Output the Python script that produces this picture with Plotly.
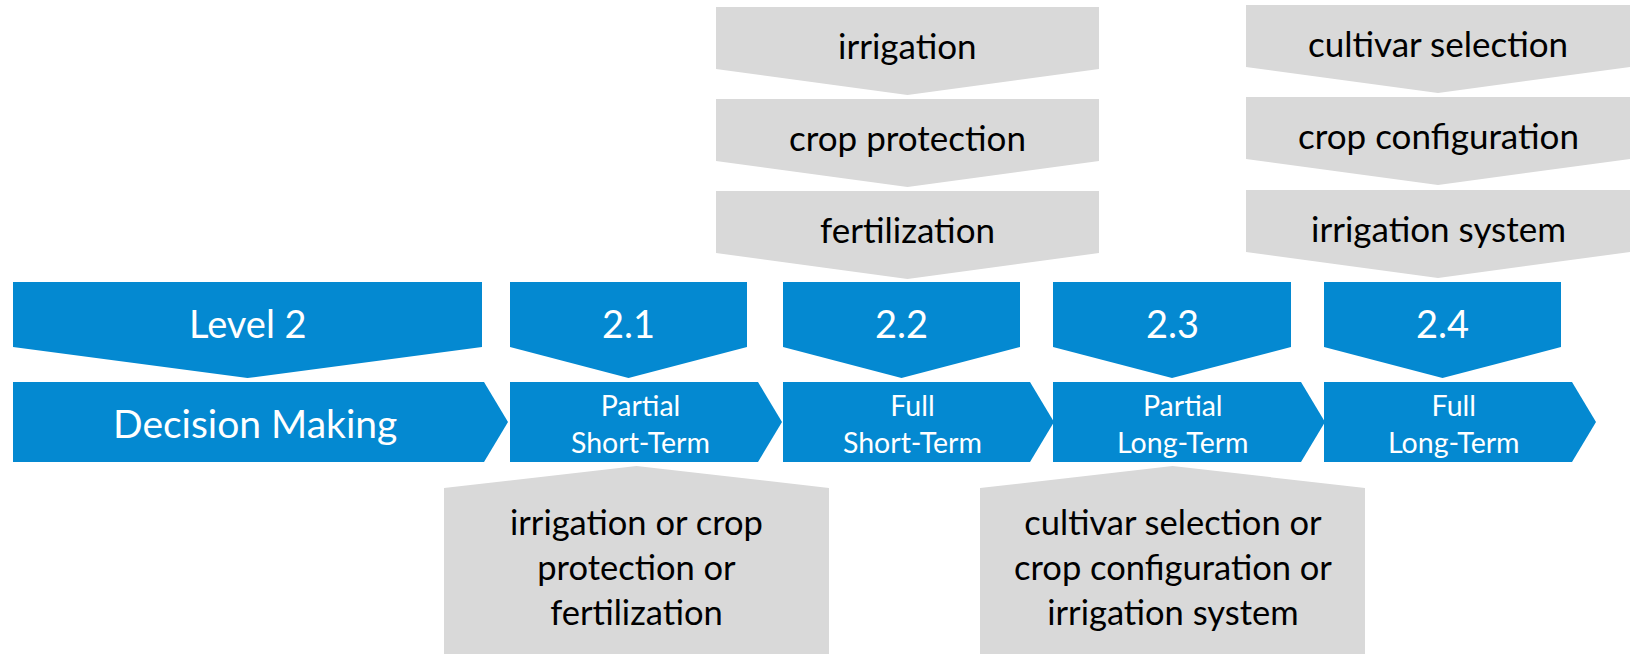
import plotly.graph_objects as go

# ---- content ----
level_label = "Level 2"
base_label = "Decision Making"
stage_codes = ["2.1", "2.2", "2.3", "2.4"]
stage_names = ["Partial<br>Short-Term", "Full<br>Short-Term", "Partial<br>Long-Term", "Full<br>Long-Term"]
short_term_actions = ["irrigation", "crop protection", "fertilization"]
long_term_actions = ["cultivar selection", "crop configuration", "irrigation system"]
partial_short_text = "irrigation or crop<br>protection or<br>fertilization"
partial_long_text = "cultivar selection or<br>crop configuration or<br>irrigation system"

# ---- layout geometry (pixels) ----
W, H = 1632, 654
BLUE = "#0489D1"
GRAY = "#D9D9D9"
FONT = "Lato"

chev_left = [13, 510, 783, 1053, 1324]
chev_flat = [484, 758, 1030, 1301, 1572]
TIP = 24
CH_TOP, CH_BOT = 382, 462
box_right = [482, 747, 1020, 1291, 1561]
BOX_TOP, BOX_SIDE, BOX_TIP = 282, 347, 378

fig = go.Figure()
ann = []


def poly(xs, ys, color):
    fig.add_trace(go.Scatter(x=xs + [xs[0]], y=ys + [ys[0]], mode="lines", fill="toself",
                             fillcolor=color, line=dict(width=0, color=color),
                             hoverinfo="skip", showlegend=False))


def down_box(x0, x1, top, side, tip, color):
    xm = (x0 + x1) / 2
    poly([x0, x1, x1, xm, x0], [top, top, side, tip, side], color)


def label(x, y, text, size, color):
    ann.append(dict(x=x, y=y, xref="x", yref="y", text=text, showarrow=False,
                    font=dict(family=FONT, size=size, color=color),
                    xanchor="center", yanchor="middle", align="center"))


level_texts = [level_label] + stage_codes
chev_texts = [base_label] + stage_names
for i in range(5):
    # level pentagon (pointing down)
    down_box(chev_left[i], box_right[i], BOX_TOP, BOX_SIDE, BOX_TIP, BLUE)
    label((chev_left[i] + box_right[i]) / 2, 323, level_texts[i], 38, "white")
    # chevron (home plate pointing right)
    poly([chev_left[i], chev_flat[i], chev_flat[i] + TIP, chev_flat[i], chev_left[i]],
         [CH_TOP, CH_TOP, (CH_TOP + CH_BOT) / 2, CH_BOT, CH_BOT], BLUE)
    cx = (chev_left[i] + chev_flat[i] + TIP / 2) / 2
    if i == 0:
        label(cx, 423, chev_texts[i], 39, "white")
    else:
        label(cx, 423, chev_texts[i], 28.5, "white")

# top gray stacks for full stages
stacks = [(716, 1099, [7, 99, 191], short_term_actions),
          (1246, 1630, [5, 97, 190], long_term_actions)]
for x0, x1, tops, acts in stacks:
    for t, a in zip(tops, acts):
        down_box(x0, x1, t, t + 62, t + 88, GRAY)
        label((x0 + x1) / 2, t + 38, a, 35, "black")

# bottom gray boxes for partial stages
bottoms = [(444, 829, partial_short_text), (980, 1365, partial_long_text)]
for x0, x1, txt in bottoms:
    xm = (x0 + x1) / 2
    poly([x0, xm, x1, x1, x0], [488, 466, 488, 660, 660], GRAY)
    label(xm, 566, txt, 34.5, "black")

fig.update_layout(
    width=W, height=H, autosize=False,
    margin=dict(l=0, r=0, t=0, b=0),
    paper_bgcolor="white", plot_bgcolor="white",
    xaxis=dict(range=[0, W], visible=False, fixedrange=True),
    yaxis=dict(range=[H, 0], visible=False, fixedrange=True),
    annotations=ann,
)

fig.write_html("out.html", config={"displayModeBar": False},
               post_script="document.body.style.margin='0';")
